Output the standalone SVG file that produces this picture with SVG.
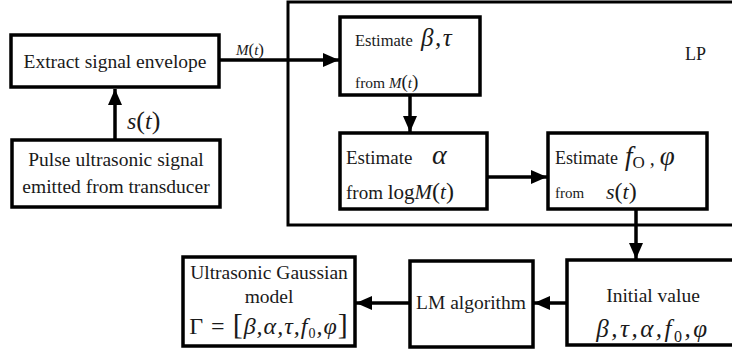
<svg xmlns="http://www.w3.org/2000/svg" width="732" height="356" viewBox="0 0 732 356" font-family="Liberation Serif, Times New Roman, serif">
<style>
.box{fill:#fff;stroke:#000;stroke-width:3.5}
.t{font-family:'Liberation Serif','Times New Roman',serif;fill:#1a1a1a}
.m{font-family:'Liberation Serif','Times New Roman',serif;font-style:italic;fill:#1a1a1a}
.n{font-style:normal}
.c{stroke:#000;stroke-width:3.5;fill:none}
</style>
<defs>
<marker id="ah" markerUnits="userSpaceOnUse" markerWidth="16" markerHeight="14" refX="16" refY="7" orient="auto">
<path d="M0,0 L16,7 L0,14 z" fill="#000"/>
</marker>
</defs>
<rect width="732" height="356" fill="#fff"/>
<g id="lp">
<rect x="288" y="2" width="460" height="223" fill="none" stroke="#000" stroke-width="3"/>
<text class="t" x="685" y="60" font-size="18">LP</text>
</g>
<g id="extract">
<rect class="box" x="11" y="35" width="208" height="52"/>
<text class="t" x="115" y="68" font-size="19.5" text-anchor="middle">Extract signal envelope</text>
</g>
<g id="pulse">
<rect class="box" x="12" y="140" width="208" height="67"/>
<text class="t" x="116" y="166" font-size="19.5" text-anchor="middle">Pulse ultrasonic signal</text>
<text class="t" x="116" y="193" font-size="19.5" text-anchor="middle">emitted from transducer</text>
</g>
<g id="est-beta">
<rect class="box" x="340" y="17" width="140" height="78"/>
<text class="t" x="355" y="46" font-size="16.5">Estimate</text>
<text class="m" x="421" y="46" font-size="25" letter-spacing="1.5">β,τ</text>
<text class="t" x="355" y="88" font-size="15.5">from <tspan class="m" font-size="15">M</tspan><tspan font-size="19">(</tspan><tspan class="m" font-size="15">t</tspan><tspan font-size="19">)</tspan></text>
</g>
<g id="est-alpha">
<rect class="box" x="340" y="133" width="147" height="76"/>
<text class="t" x="346" y="164" font-size="19">Estimate</text>
<text class="m" x="432" y="164" font-size="28">α</text>
<text class="t" x="346" y="199" font-size="19">from <tspan font-size="21">log</tspan><tspan class="m" font-size="21">M</tspan><tspan font-size="24">(</tspan><tspan class="m" font-size="21">t</tspan><tspan font-size="24">)</tspan></text>
</g>
<g id="est-f0">
<rect class="box" x="548" y="133" width="159" height="76"/>
<text class="t" x="555" y="164" font-size="18">Estimate</text>
<text class="m" x="625" y="165" font-size="27">f<tspan class="n" font-size="17" dy="3">O</tspan><tspan dy="-3" font-size="20"> , </tspan>φ</text>
<text class="t" x="555" y="198" font-size="15">from</text>
<text class="m" x="606" y="199" font-size="22">s<tspan class="n" font-size="24">(</tspan>t<tspan class="n" font-size="24">)</tspan></text>
</g>
<g id="initial">
<rect class="box" x="567" y="260" width="180" height="85"/>
<text class="t" x="653" y="302" font-size="19.5" text-anchor="middle">Initial value</text>
<text class="m" x="653" y="337" font-size="25" text-anchor="middle" letter-spacing="2.5">β,τ,α,f<tspan class="n" font-size="16" dy="5">0</tspan><tspan dy="-5">,φ</tspan></text>
</g>
<g id="lm">
<rect class="box" x="410" y="261" width="123" height="86"/>
<text class="t" x="471" y="309" font-size="19.5" text-anchor="middle">LM algorithm</text>
</g>
<g id="ultra">
<rect class="box" x="183" y="257" width="172" height="89"/>
<text class="t" x="269" y="279" font-size="19.5" text-anchor="middle">Ultrasonic Gaussian</text>
<text class="t" x="269" y="303" font-size="19.5" text-anchor="middle">model</text>
<text class="t" x="269" y="334" font-size="24" text-anchor="middle" letter-spacing="1">Γ = <tspan font-size="30">[</tspan><tspan class="m">β,α,τ,f</tspan><tspan font-size="14" dy="4">0</tspan><tspan class="m" dy="-4">,φ</tspan><tspan font-size="30">]</tspan></text>
</g>
<g id="connectors">
<line class="c" x1="115" y1="140" x2="115" y2="89" marker-end="url(#ah)"/>
<line class="c" x1="219" y1="60" x2="339" y2="60" marker-end="url(#ah)"/>
<line class="c" x1="410" y1="95" x2="410" y2="132" marker-end="url(#ah)"/>
<line class="c" x1="487" y1="177" x2="547" y2="177" marker-end="url(#ah)"/>
<line class="c" x1="636" y1="209" x2="636" y2="259" marker-end="url(#ah)"/>
<line class="c" x1="567" y1="303" x2="534" y2="303" marker-end="url(#ah)"/>
<line class="c" x1="410" y1="303" x2="356" y2="303" marker-end="url(#ah)"/>
<text class="m" x="127" y="129" font-size="24">s<tspan class="n" font-size="26">(</tspan>t<tspan class="n" font-size="26">)</tspan></text>
<text class="m" x="236" y="55" font-size="15">M<tspan class="n" font-size="17">(</tspan>t<tspan class="n" font-size="17">)</tspan></text>
</g>
</svg>
